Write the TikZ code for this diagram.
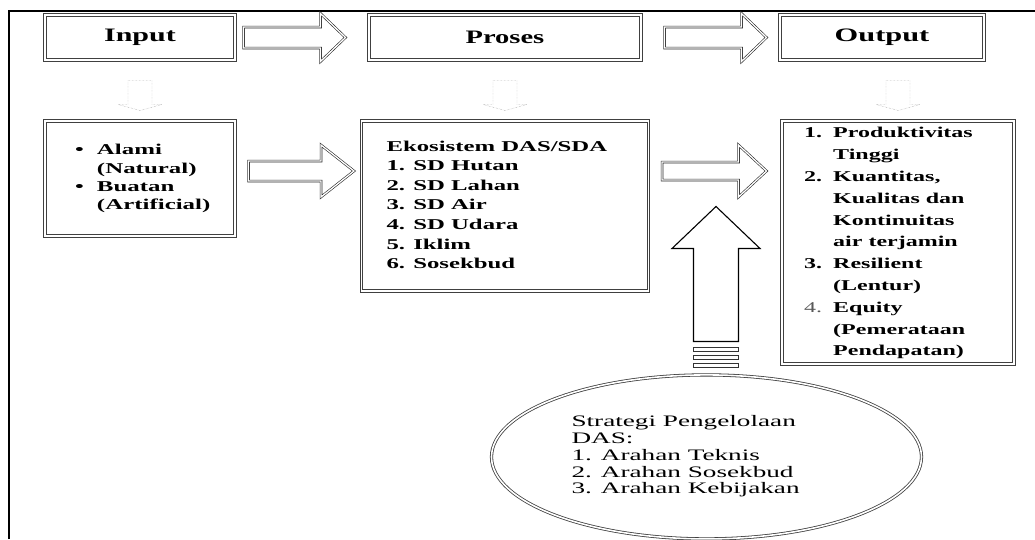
\documentclass[tikz,border=0pt]{standalone}
\usepackage{fontspec}
\setmainfont{Liberation Serif}
\usepackage{graphicx}
\usepackage{tikz}
\usetikzlibrary{shapes,arrows,positioning,calc}
% text in the figure is set wide
\newcommand\wide[2][1.65]{\scalebox{#1}[1]{#2}}
% left aligned block of given width, indented
\newcommand\inbox[3]{\makebox[#1][l]{\hspace*{#2}#3}}

\begin{document}
\begin{tikzpicture}[x=1pt,y=-1pt,
	main node/.style={draw=black!75, double, double distance=1.3pt, line width=1pt, inner sep=0pt},
	title node/.style={main node, minimum width=#1, minimum height=45pt, font=\fontsize{19}{22}\selectfont\bfseries},
	list node/.style={main node},
	ell node/.style={ellipse, draw=black!75, double, double distance=1.6pt, line width=0.8pt, inner sep=0pt, font=\fontsize{16}{16.8}\selectfont},
	hblock/.style n args={3}{draw=black!85, double, double distance=1.3pt, line width=0.6pt,
		to path={let \p1=(\tikztostart), \p2=(\tikztotarget) in
			(\x1,\y1+#1pt) -- (\x2-#3pt,\y1+#1pt) -- (\x2-#3pt,\y1+#2pt) -- (\x2,\y2)
			-- (\x2-#3pt,\y1-#2pt) -- (\x2-#3pt,\y1-#1pt) -- (\x1,\y1-#1pt) -- cycle}},
	vblock/.style n args={3}{
		to path={let \p1=(\tikztostart), \p2=(\tikztotarget), \n1={(\y2-\y1)/abs(\y2-\y1)} in
			(\x1-#1pt,\y1) -- (\x1-#1pt,\y2-\n1*#3pt) -- (\x1-#2pt,\y2-\n1*#3pt) -- (\x2,\y2)
			-- (\x1+#2pt,\y2-\n1*#3pt) -- (\x1+#1pt,\y2-\n1*#3pt) -- (\x1+#1pt,\y1) -- cycle}}]
	\useasboundingbox (0,0) rectangle (1035,539);
	\draw[line width=2.4pt] (9,539) -- (9,11) -- (1035,11);
	
	\node[title node=190pt] (1) at (140,37.5) {\wide[1.58]{Input}};
	\node[title node=272pt] (2) [right=133pt of 1] {\wide[1.5]{Proses}};
	\node[title node=204pt] (3) [right=138pt of 2] {\wide[1.6]{Output}};
	
	\node[list node, minimum height=115pt, font=\fontsize{15}{18.3}\selectfont\bfseries] (4) [below=60pt of 1]
	{\inbox{190pt}{30pt}{\wide[1.66]{\begin{tabular}{@{}l@{\hspace{8pt}}l@{}}
		\textbullet & Alami\\
		& (Natural)\\
		\textbullet & Buatan\\
		& (Artificial)
	\end{tabular}}}};
	\node[list node, minimum height=170pt, font=\fontsize{15}{19.6}\selectfont\bfseries] (5) [below=60pt of 2]
	{\inbox{287pt}{25pt}{\wide{\begin{tabular}{@{}l@{}}
		Ekosistem DAS/SDA\\
		1. SD Hutan\\
		2. SD Lahan\\
		3. SD Air\\
		4. SD Udara\\
		5. Iklim\\
		6. Sosekbud
	\end{tabular}}}};
	\node[list node, minimum height=243pt, font=\fontsize{15}{21.8}\selectfont\bfseries] (6) [below=60pt of 3, xshift=16pt]
	{\inbox{232pt}{22pt}{\wide[1.6]{\begin{tabular}{@{}l@{\hspace{7pt}}l@{}}
		1. & Produktivitas\\
		& Tinggi\\
		2. & Kuantitas,\\
		& Kualitas dan\\
		& Kontinuitas\\
		& air terjamin\\
		3. & Resilient\\
		& (Lentur)\\
		{\mdseries\color{black!65}4.} & Equity\\
		& (Pemerataan\\
		& Pendapatan)
	\end{tabular}}}};
	
	\node[ell node, minimum width=430pt, minimum height=164pt] (7) [below=83pt of 5, xshift=201.5pt]
	{\inbox{270pt}{0pt}{\wide[1.7]{\begin{tabular}{@{}l@{}}
		Strategi Pengelolaan\\
		DAS:\\
		1. Arahan Teknis\\
		2. Arahan Sosekbud\\
		3. Arahan Kebijakan
	\end{tabular}}}};
	
	% dotted arrows above the boxes
	\foreach \n in {4,5,6}
	\draw[vblock={12}{22}{6}, densely dotted, draw=black!45, thin] ($(\n.north)+(0,-40)$) to ($(\n.north)+(0,-10)$);
	
	% block arrows
	\path
	($(1.east)+(8,0)$) edge [hblock={10.5}{24}{25}] ($(2.west)+(-23,0)$)
	($(2.east)+(23,0)$) edge [hblock={10.5}{24}{25}] ($(3.west)+(-13,0)$)
	($(4.east)+(13,-7.5)$) edge [hblock={10}{26}{33}] ($(5.west)+(-7,-35)$)
	($(5.east)+(13,-35)$) edge [hblock={9}{26}{28}] ($(6.west)+(-15,-71.5)$);
	
	\coordinate (8) at ($(7.north)+(9.5,-33)$);
	\draw[vblock={22.5}{44}{42}, line width=1.1pt] (8) to ($(8)+(0,-135)$);
	\foreach \d in {6,14,22}
	\draw[line width=0.9pt, draw=black!80] ($(8)+(-22.5,\d)$) rectangle ++(45,4);
\end{tikzpicture}
\end{document}
